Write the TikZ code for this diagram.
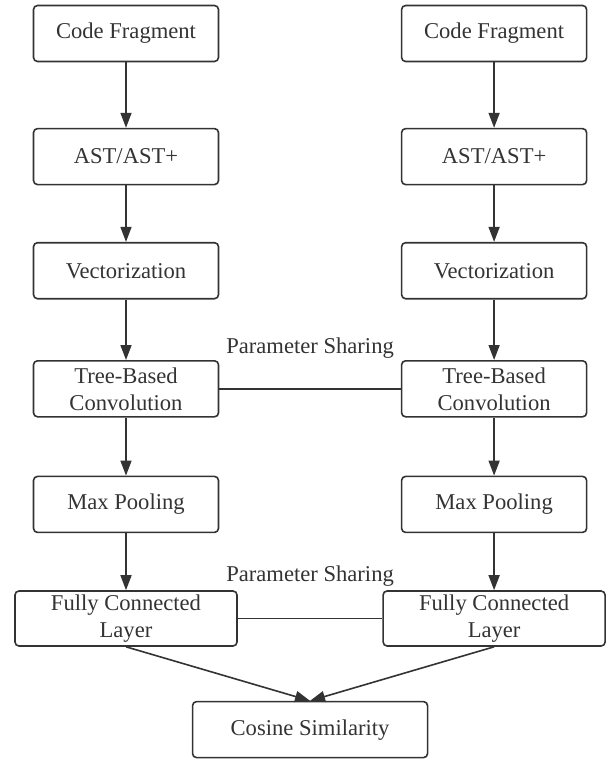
\documentclass[tikz,border=0pt]{standalone}
\usepackage{fontspec}
\setmainfont{Liberation Serif}
\usetikzlibrary{positioning,arrows.meta}
\definecolor{ink}{HTML}{333333}

\begin{document}
\begin{tikzpicture}[
    node distance=60pt and 181.5pt,
    block/.style={rectangle, rounded corners=4pt, draw=ink, line width=1.6pt,
                  text=ink, text centered, minimum width=185pt,
                  minimum height=56pt, align=center, inner sep=2pt,
                  font=\fontsize{22.6}{27}\selectfont},
    wide/.style={block, minimum width=222pt, minimum height=55pt},
    arr/.style={-{Triangle[length=15pt,width=11pt]}, line width=1.6pt, draw=ink},
    link/.style={line width=1.6pt, draw=ink},
    share/.style={text=ink, inner sep=0pt, font=\fontsize{22.6}{27}\selectfont}
]
\useasboundingbox (0,0) rectangle (613pt,-762pt);
% left branch
\node[block] (codeL) at (126pt,-33.5pt) {Code Fragment};
\node[block, below=65.5pt of codeL] (astL) {AST/AST+};
\node[block, below=56.5pt of astL] (vecL) {Vectorization};
\node[block, below=60.5pt of vecL] (treeL) {Tree-Based\\Convolution};
\node[block, below=58pt of treeL] (poolL) {Max Pooling};
\node[wide, below=57pt of poolL] (fcL) {Fully Connected\\Layer};
% right branch
\node[block, right=of codeL] (codeR) {Code Fragment};
\node[block, below=65.5pt of codeR] (astR) {AST/AST+};
\node[block, below=56.5pt of astR] (vecR) {Vectorization};
\node[block, below=60.5pt of vecR] (treeR) {Tree-Based\\Convolution};
\node[block, below=58pt of treeR] (poolR) {Max Pooling};
\node[wide, below=57pt of poolR] (fcR) {Fully Connected\\Layer};
% merge
\path (fcL.south) -- (fcR.south) coordinate[midway] (fcmid);
\node[block, minimum width=235pt, below=54pt of fcmid] (cos) {Cosine Similarity};

\draw[arr] (codeL) -- (astL); \draw[arr] (astL) -- (vecL);
\draw[arr] (vecL) -- (treeL); \draw[arr] (treeL) -- (poolL);
\draw[arr] (poolL) -- (fcL);
\draw[arr] (codeR) -- (astR); \draw[arr] (astR) -- (vecR);
\draw[arr] (vecR) -- (treeR); \draw[arr] (treeR) -- (poolR);
\draw[arr] (poolR) -- (fcR);
\draw[link] (treeL) -- node[share, above=30pt] {Parameter Sharing} (treeR);
\draw[link] (fcL) -- node[share, above=31pt] {Parameter Sharing} (fcR);
\draw[arr] (fcL.south) -- (cos.north);
\draw[arr] (fcR.south) -- (cos.north);
\end{tikzpicture}
\end{document}
